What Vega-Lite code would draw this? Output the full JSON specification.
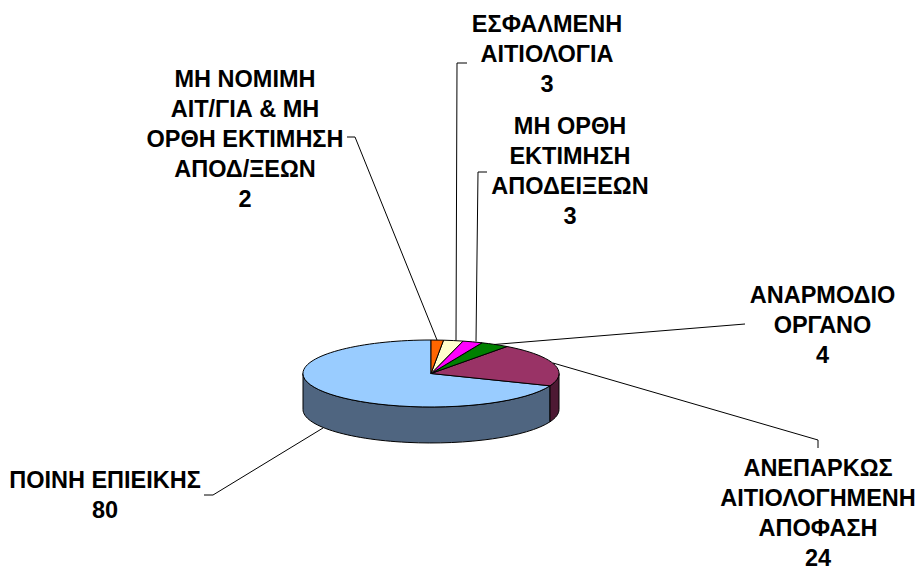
{"$schema":"https://vega.github.io/schema/vega-lite/v6.json","width":862,"height":387,"autosize":{"type":"none"},"padding":{"left":0,"top":180,"right":59,"bottom":0},"background":"white","view":{"stroke":null},"data":{"values":[{"category":"ΠΟΙΝΗ ΕΠΙΕΙΚΗΣ","label":"ΠΟΙΝΗ ΕΠΙΕΙΚΗΣ","value":80},{"category":"ΑΝΕΠΑΡΚΩΣ ΑΙΤΙΟΛΟΓΗΜΕΝΗ ΑΠΟΦΑΣΗ","label":"ΑΝΕΠΑΡΚΩΣ\nΑΙΤΙΟΛΟΓΗΜΕΝΗ\nΑΠΟΦΑΣΗ","value":24},{"category":"ΑΝΑΡΜΟΔΙΟ ΟΡΓΑΝΟ","label":"ΑΝΑΡΜΟΔΙΟ\nΟΡΓΑΝΟ","value":4},{"category":"ΜΗ ΟΡΘΗ ΕΚΤΙΜΗΣΗ ΑΠΟΔΕΙΞΕΩΝ","label":"ΜΗ ΟΡΘΗ\nΕΚΤΙΜΗΣΗ\nΑΠΟΔΕΙΞΕΩΝ","value":3},{"category":"ΕΣΦΑΛΜΕΝΗ ΑΙΤΙΟΛΟΓΙΑ","label":"ΕΣΦΑΛΜΕΝΗ\nΑΙΤΙΟΛΟΓΙΑ","value":3},{"category":"ΜΗ ΝΟΜΙΜΗ ΑΙΤ/ΓΙΑ & ΜΗ ΟΡΘΗ ΕΚΤΙΜΗΣΗ ΑΠΟΔ/ΞΕΩΝ","label":"ΜΗ ΝΟΜΙΜΗ\nΑΙΤ/ΓΙΑ & ΜΗ\nΟΡΘΗ ΕΚΤΙΜΗΣΗ\nΑΠΟΔ/ΞΕΩΝ","value":2}]},"transform":[{"calculate":"datum.label + '\\n' + datum.value","as":"text"}],"resolve":{"scale":{"shape":"independent","fill":"independent"}},"layer":[{"transform":[{"filter":"datum.value >= 24"}],"mark":{"type":"point","filled":true,"opacity":1,"stroke":"black","strokeWidth":1,"size":4},"encoding":{"shape":{"field":"value","type":"nominal","legend":null,"scale":{"domain":[80,24],"range":["M119,12.3 L119,48.3 A128,33.5 0 0 1 -128,36 L-128,0 A128,33.5 0 0 0 119,12.3 Z","M119,12.3 A128,33.5 0 0 0 128,0 L128,36 A128,33.5 0 0 1 119,48.3 Z"]}},"fill":{"field":"value","type":"nominal","legend":null,"scale":{"domain":[80,24],"range":["#4F6580","#4D1933"]}}}},{"mark":{"type":"point","filled":true,"opacity":1,"stroke":"black","strokeWidth":1,"size":4},"encoding":{"shape":{"field":"category","type":"nominal","legend":null,"scale":{"domain":["ΠΟΙΝΗ ΕΠΙΕΙΚΗΣ","ΑΝΕΠΑΡΚΩΣ ΑΙΤΙΟΛΟΓΗΜΕΝΗ ΑΠΟΦΑΣΗ","ΑΝΑΡΜΟΔΙΟ ΟΡΓΑΝΟ","ΜΗ ΟΡΘΗ ΕΚΤΙΜΗΣΗ ΑΠΟΔΕΙΞΕΩΝ","ΕΣΦΑΛΜΕΝΗ ΑΙΤΙΟΛΟΓΙΑ","ΜΗ ΝΟΜΙΜΗ ΑΙΤ/ΓΙΑ & ΜΗ ΟΡΘΗ ΕΚΤΙΜΗΣΗ ΑΠΟΔ/ΞΕΩΝ"],"range":["M0,0 L119,12.3 A128,33.5 0 1 1 0,-33.5 Z","M0,0 L76,-27 A128,33.5 0 0 1 119,12.3 Z","M0,0 L51,-30.7 A128,33.5 0 0 1 76,-27 Z","M0,0 L32,-32.4 A128,33.5 0 0 1 51,-30.7 Z","M0,0 L12.5,-33.3 A128,33.5 0 0 1 32,-32.4 Z","M0,0 L0,-33.5 A128,33.5 0 0 1 12.5,-33.3 Z"]}},"fill":{"field":"category","type":"nominal","legend":null,"scale":{"domain":["ΠΟΙΝΗ ΕΠΙΕΙΚΗΣ","ΑΝΕΠΑΡΚΩΣ ΑΙΤΙΟΛΟΓΗΜΕΝΗ ΑΠΟΦΑΣΗ","ΑΝΑΡΜΟΔΙΟ ΟΡΓΑΝΟ","ΜΗ ΟΡΘΗ ΕΚΤΙΜΗΣΗ ΑΠΟΔΕΙΞΕΩΝ","ΕΣΦΑΛΜΕΝΗ ΑΙΤΙΟΛΟΓΙΑ","ΜΗ ΝΟΜΙΜΗ ΑΙΤ/ΓΙΑ & ΜΗ ΟΡΘΗ ΕΚΤΙΜΗΣΗ ΑΠΟΔ/ΞΕΩΝ"],"range":["#99CCFF","#993366","#008000","#FF00FF","#FFFFCC","#FF6600"]}}}},{"mark":{"type":"point","filled":false,"opacity":1,"stroke":"black","strokeWidth":1,"size":4},"encoding":{"shape":{"field":"category","type":"nominal","legend":null,"scale":{"domain":["ΠΟΙΝΗ ΕΠΙΕΙΚΗΣ","ΑΝΕΠΑΡΚΩΣ ΑΙΤΙΟΛΟΓΗΜΕΝΗ ΑΠΟΦΑΣΗ","ΑΝΑΡΜΟΔΙΟ ΟΡΓΑΝΟ","ΜΗ ΟΡΘΗ ΕΚΤΙΜΗΣΗ ΑΠΟΔΕΙΞΕΩΝ","ΕΣΦΑΛΜΕΝΗ ΑΙΤΙΟΛΟΓΙΑ","ΜΗ ΝΟΜΙΜΗ ΑΙΤ/ΓΙΑ & ΜΗ ΟΡΘΗ ΕΚΤΙΜΗΣΗ ΑΠΟΔ/ΞΕΩΝ"],"range":["M-108,54.5 L-218,121.5 L-227,121.5","M122,-10.5 L387,66.5 L387,74.5","M63,-29 L314,-49.5","M45,-32 L47,-201.5 L56,-201.5","M25,-33 L26,-310.5 L36,-310.5","M6,-33.5 L-76,-236.5 L-84,-236.5"]}}}},{"transform":[{"filter":"datum.value == 80"}],"mark":{"type":"text","font":"Liberation Sans","fontWeight":"bold","fontSize":23.5,"lineHeight":30,"align":"center","baseline":"alphabetic","color":"black","lineBreak":"\n","dx":-326,"dy":114.5},"encoding":{"text":{"field":"text"}}},{"transform":[{"filter":"datum.value == 24"}],"mark":{"type":"text","font":"Liberation Sans","fontWeight":"bold","fontSize":23.5,"lineHeight":30,"align":"center","baseline":"alphabetic","color":"black","lineBreak":"\n","dx":387,"dy":102.5},"encoding":{"text":{"field":"text"}}},{"transform":[{"filter":"datum.value == 4"}],"mark":{"type":"text","font":"Liberation Sans","fontWeight":"bold","fontSize":23.5,"lineHeight":30,"align":"center","baseline":"alphabetic","color":"black","lineBreak":"\n","dx":391.5,"dy":-70.5},"encoding":{"text":{"field":"text"}}},{"transform":[{"filter":"datum.label == 'ΜΗ ΟΡΘΗ\\nΕΚΤΙΜΗΣΗ\\nΑΠΟΔΕΙΞΕΩΝ'"}],"mark":{"type":"text","font":"Liberation Sans","fontWeight":"bold","fontSize":23.5,"lineHeight":30,"align":"center","baseline":"alphabetic","color":"black","lineBreak":"\n","dx":139,"dy":-239.5},"encoding":{"text":{"field":"text"}}},{"transform":[{"filter":"datum.label == 'ΕΣΦΑΛΜΕΝΗ\\nΑΙΤΙΟΛΟΓΙΑ'"}],"mark":{"type":"text","font":"Liberation Sans","fontWeight":"bold","fontSize":23.5,"lineHeight":30,"align":"center","baseline":"alphabetic","color":"black","lineBreak":"\n","dx":116,"dy":-341.5},"encoding":{"text":{"field":"text"}}},{"transform":[{"filter":"datum.value == 2"}],"mark":{"type":"text","font":"Liberation Sans","fontWeight":"bold","fontSize":23.5,"lineHeight":30,"align":"center","baseline":"alphabetic","color":"black","lineBreak":"\n","dx":-186,"dy":-286.5},"encoding":{"text":{"field":"text"}}}]}
